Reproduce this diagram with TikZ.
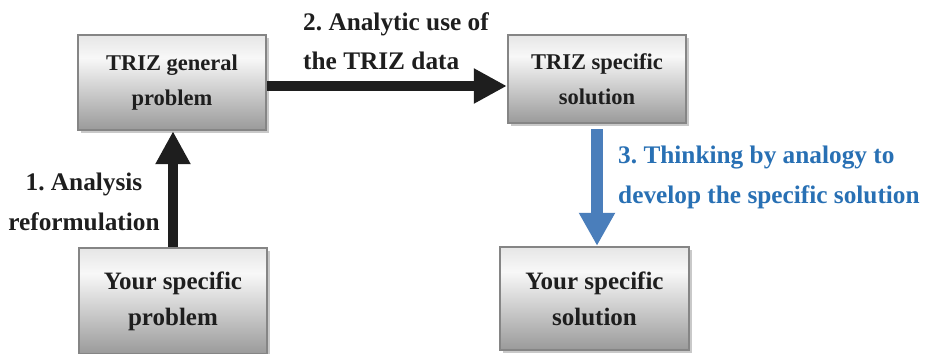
\documentclass[tikz,border=0pt]{standalone}
\usepackage{fontspec}
\setmainfont{Liberation Serif}
\usetikzlibrary{arrows.meta,shadows}
\frenchspacing

\definecolor{boxborder}{HTML}{858585}
\definecolor{boxshadow}{HTML}{C9C9C9}
\definecolor{bxtop}{HTML}{E6E6E6}
\definecolor{bxmid}{HTML}{F8F8F8}
\definecolor{bxbot}{HTML}{9A9A9A}
\definecolor{stepblue}{RGB}{74,126,187}
\definecolor{labelblue}{RGB}{40,112,180}
\definecolor{inktext}{HTML}{1E1E1E}

% grey box fill: light near the top, darker towards the bottom
\pgfdeclareverticalshading{boxgrad}{100bp}{color(0bp)=(bxbot); color(25bp)=(bxbot); color(63bp)=(bxmid); color(75bp)=(bxtop); color(100bp)=(bxtop)}

\begin{document}
\begin{tikzpicture}[x=1pt,y=-1pt,
  stepbox/.style={draw=boxborder, line width=2.4pt, shade, shading=boxgrad,
    inner sep=0pt, align=center, text=inktext,
    drop shadow={shadow xshift=3pt, shadow yshift=-3pt, fill=boxshadow, opacity=1}},
  smalltext/.style={font=\fontsize{22.5}{35}\selectfont\bfseries},
  largetext/.style={font=\fontsize{25}{36}\selectfont\bfseries},
  steplabel/.style={font=\fontsize{25.3}{39.5}\selectfont\bfseries, inner sep=0pt, text=inktext},
  bigarrow/.style={line width=10pt, draw=inktext, -{Triangle[width=33pt,length=33pt]}},
  bluearrow/.style={line width=12pt, draw=stepblue, -{Triangle[width=34pt,length=33pt]}}
]
\useasboundingbox (0,0) rectangle (925,353);
\fill[white] (0,0) rectangle (925,353);

% boxes
\node[stepbox, smalltext, minimum width=188pt, minimum height=95pt] (tg) at (172,82.5) {TRIZ general\\problem};
\node[stepbox, smalltext, minimum width=178pt, minimum height=88pt] (ts) at (597,79) {TRIZ specific\\solution};
\node[stepbox, largetext, minimum width=188pt, minimum height=106pt] (yp) at (173,301) {Your specific\\problem};
\node[stepbox, largetext, minimum width=189pt, minimum height=103pt] (ys) at (594.5,298.5) {Your specific\\solution};

% connectors
\draw[bigarrow] (yp.north) -- (yp.north |- tg.south);
\coordinate (a2) at ([yshift=-3.5pt]tg.east);
\draw[bigarrow] (a2) -- (a2 -| ts.west);
\coordinate (a3) at ([yshift=-5pt]ts.south);
\draw[bluearrow] (a3) -- (a3 |- ys.north);

% step labels
\node[steplabel, anchor=north, align=center] (l1) at (84,173) {1. Analysis\\reformulation};
\node[steplabel, anchor=north west, align=left] (l2) at (303,12) {2. Analytic use of\\the TRIZ data};
\node[steplabel, anchor=north west, align=left, text=labelblue] (l3) at (618,146) {3. Thinking by analogy to\\develop the specific solution};
\end{tikzpicture}
\end{document}
